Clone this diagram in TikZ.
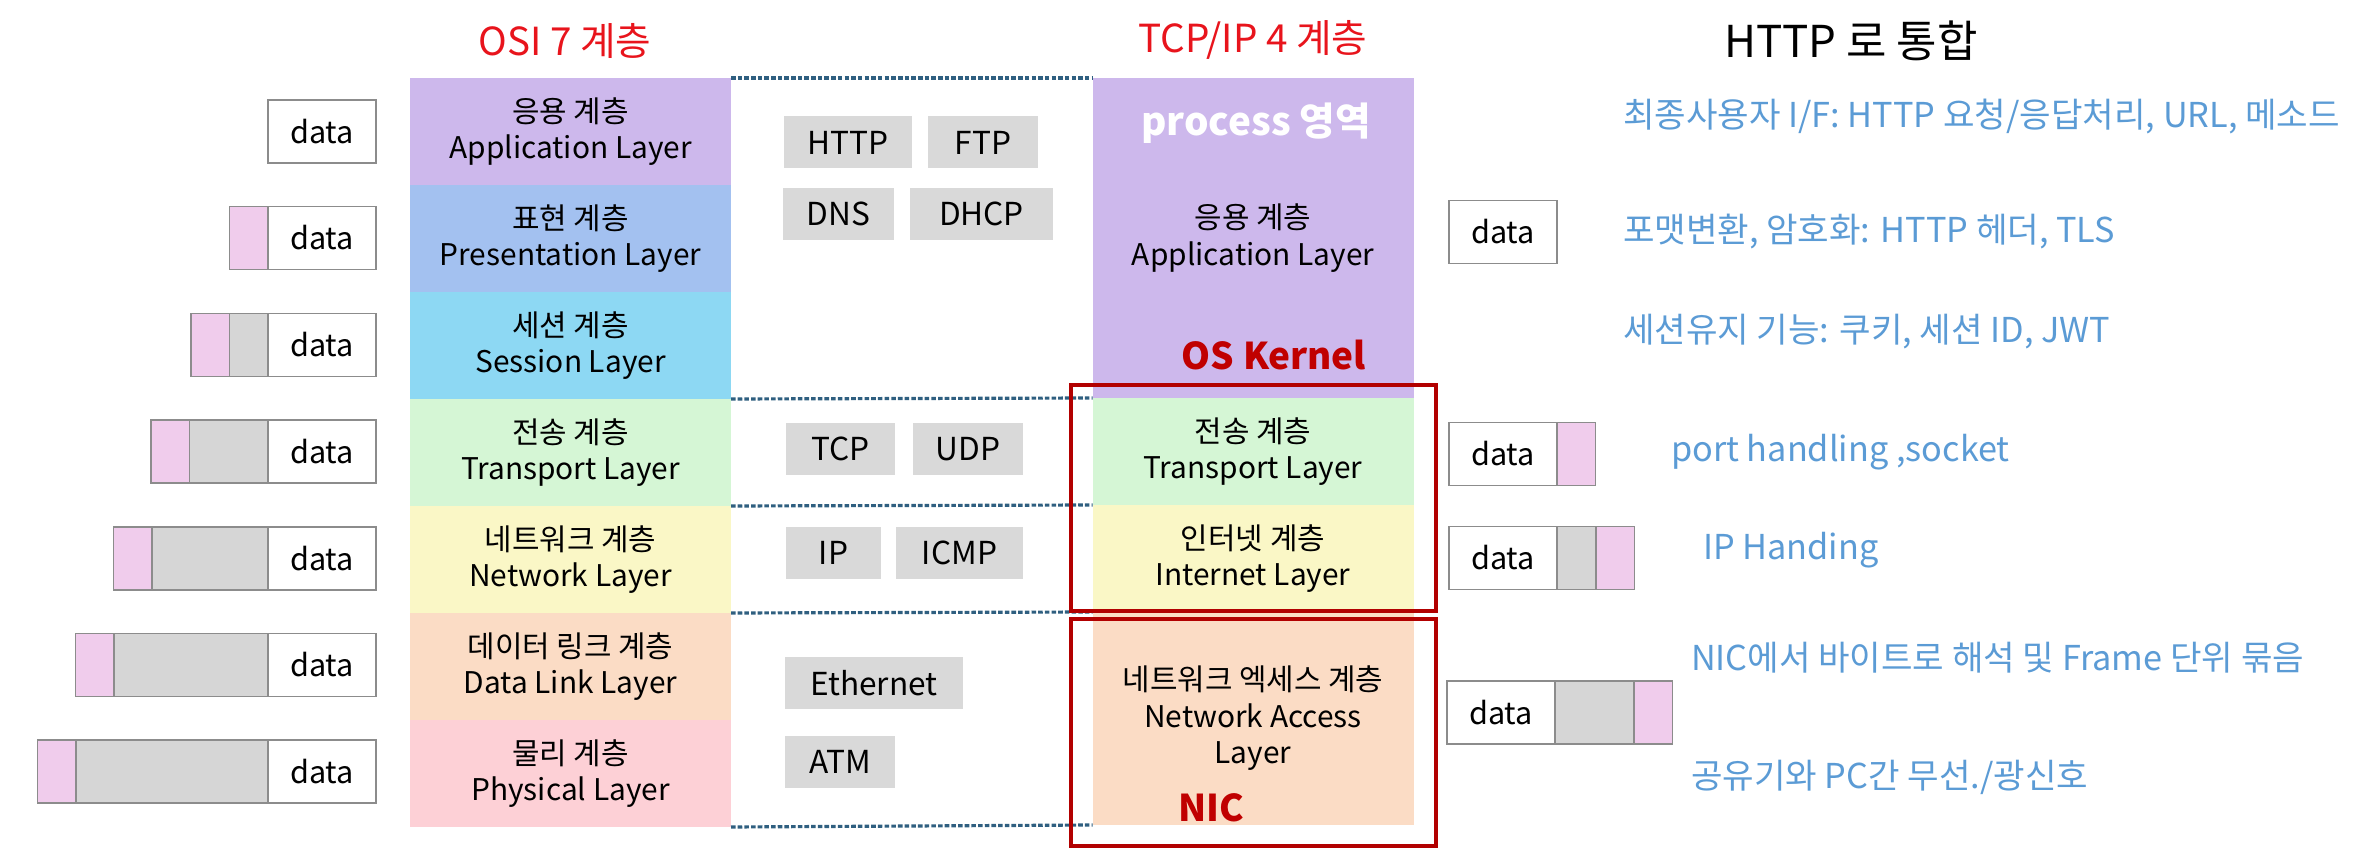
\documentclass[tikz,border=0pt]{standalone}
\usepackage{fontspec}
\setmainfont{Noto Sans CJK KR}
\usetikzlibrary{positioning}

\definecolor{appc}{HTML}{CDB8EC}
\definecolor{prec}{HTML}{A3C1F0}
\definecolor{sesc}{HTML}{8DD8F3}
\definecolor{trac}{HTML}{D5F6D5}
\definecolor{netc}{HTML}{FAF7C6}
\definecolor{dlkc}{HTML}{FBDCC5}
\definecolor{phyc}{HTML}{FDD0D6}
\definecolor{protogray}{HTML}{D9D9D9}
\definecolor{hdrgray}{HTML}{D6D6D6}
\definecolor{hdrpink}{HTML}{F0CCEC}
\definecolor{pktline}{HTML}{8C8C8C}
\definecolor{noteblue}{HTML}{5B9BD5}
\definecolor{titlered}{HTML}{E8141C}
\definecolor{kernred}{HTML}{C00000}
\definecolor{boxred}{HTML}{B20000}
\definecolor{sepblue}{HTML}{2F5F80}

\begin{document}
\begin{tikzpicture}[y=-1cm, node distance=0cm, line join=miter,
    every node/.style={outer sep=0pt, inner sep=0pt},
    layer/.style={minimum width=3.21cm, minimum height=1.07cm, align=center, font=\fontsize{8.5}{10.4}\selectfont},
    proto/.style={fill=protogray, minimum height=0.52cm, anchor=west, font=\fontsize{9}{10}\selectfont},
    pktdat/.style={draw=pktline, line width=0.5pt, fill=white, minimum width=1.08cm, minimum height=0.63cm, font=\fontsize{8.7}{10}\selectfont},
    pkthdr/.style={draw=pktline, line width=0.5pt, fill=hdrgray, minimum height=0.63cm},
    pktpnk/.style={draw=pktline, line width=0.5pt, fill=hdrpink, minimum width=0.385cm, minimum height=0.63cm},
    note/.style={text=noteblue, anchor=west, font=\fontsize{9.75}{11}\selectfont},
    title/.style={text=titlered, font=\fontsize{11}{13}\selectfont},
    kern/.style={text=kernred, font=\bfseries\fontsize{10.5}{12}\selectfont},
    sep/.style={draw=sepblue, line width=0.9pt, dash pattern=on 1.3pt off 0.6pt},
    kbox/.style={draw=boxred, line width=1pt}]
    \useasboundingbox (0,0) rectangle (23.66,8.52);

    % titles
    \node[title] (osititle) at (5.65,0.41) {OSI 7 계층};
    \node[title] (tcptitle) at (12.53,0.40) {TCP/IP 4 계층};
    \node[font=\fontsize{12.5}{14}\selectfont] (httptitle) at (18.51,0.41) {HTTP 로 통합};

    % OSI 7 layers
    \node[layer, fill=appc, anchor=north] (osiapp) at (5.705,0.78) {응용 계층\\Application Layer};
    \node[layer, fill=prec, below=of osiapp] (osipre) {표현 계층\\Presentation Layer};
    \node[layer, fill=sesc, below=of osipre] (osises) {세션 계층\\Session Layer};
    \node[layer, fill=trac, below=of osises] (ositra) {전송 계층\\Transport Layer};
    \node[layer, fill=netc, below=of ositra] (osinet) {네트워크 계층\\Network Layer};
    \node[layer, fill=dlkc, below=of osinet] (osidlk) {데이터 링크 계층\\Data Link Layer};
    \node[layer, fill=phyc, below=of osidlk] (osiphy) {물리 계층\\Physical Layer};

    % TCP/IP 4 layers
    \node[layer, fill=appc, anchor=north, minimum height=3.2cm] (tcpapp) at (12.53,0.78) {응용 계층\\Application Layer};
    \node[layer, fill=trac, below=of tcpapp] (tcptra) {전송 계층\\Transport Layer};
    \node[layer, fill=netc, below=of tcptra] (tcpint) {인터넷 계층\\Internet Layer};
    \node[layer, fill=dlkc, below=of tcpint, minimum height=2.13cm] (tcpnac) {네트워크 엑세스 계층\\Network Access\\Layer};

    \node[text=white, font=\bfseries\fontsize{11}{13}\selectfont] (proc) at (12.56,1.23) {process 영역};
    \node[kern] (oskern) at (12.74,3.55) {OS Kernel};
    \node[kern] (nic) at (12.11,8.08) {NIC};

    % separators
    \draw[sep] (osiapp.north east) -- (tcpapp.north west);
    \draw[sep] (osises.south east) -- (tcpapp.south west);
    \draw[sep] (ositra.south east) -- (tcptra.south west);
    \draw[sep] (osinet.south east) -- (tcpint.south west);
    \draw[sep] (osiphy.south east) -- (tcpnac.south west);

    % protocols
    \node[proto, minimum width=1.28cm] (http) at (7.84,1.425) {HTTP};
    \node[proto, minimum width=1.10cm] (ftp) at (9.28,1.425) {FTP};
    \node[proto, minimum width=1.11cm] (dns) at (7.83,2.14) {DNS};
    \node[proto, minimum width=1.43cm] (dhcp) at (9.10,2.14) {DHCP};
    \node[proto, minimum width=1.09cm] (tcp) at (7.86,4.49) {TCP};
    \node[proto, minimum width=1.10cm] (udp) at (9.13,4.49) {UDP};
    \node[proto, minimum width=0.95cm] (ip) at (7.86,5.53) {IP};
    \node[proto, minimum width=1.27cm] (icmp) at (8.96,5.53) {ICMP};
    \node[proto, minimum width=1.78cm] (eth) at (7.85,6.835) {Ethernet};
    \node[proto, minimum width=1.10cm] (atm) at (7.85,7.62) {ATM};

    % OSI side packets
    \node[pktdat, anchor=east] (ldat1) at (3.76,1.315) {data};

    \node[pktdat, anchor=east] (ldat2) at (3.76,2.38) {data};
    \node[pktpnk, left=of ldat2] (lpnk2) {};

    \node[pktdat, anchor=east] (ldat3) at (3.76,3.45) {data};
    \node[pkthdr, minimum width=0.385cm, left=of ldat3] (lhdr3) {};
    \node[pktpnk, left=of lhdr3] (lpnk3) {};

    \node[pktdat, anchor=east] (ldat4) at (3.76,4.515) {data};
    \node[pkthdr, minimum width=0.785cm, left=of ldat4] (lhdr4) {};
    \node[pktpnk, left=of lhdr4] (lpnk4) {};

    \node[pktdat, anchor=east] (ldat5) at (3.76,5.585) {data};
    \node[pkthdr, minimum width=1.16cm, left=of ldat5] (lhdr5) {};
    \node[pktpnk, left=of lhdr5] (lpnk5) {};

    \node[pktdat, anchor=east] (ldat6) at (3.76,6.65) {data};
    \node[pkthdr, minimum width=1.54cm, left=of ldat6] (lhdr6) {};
    \node[pktpnk, left=of lhdr6] (lpnk6) {};

    \node[pktdat, anchor=east] (ldat7) at (3.76,7.715) {data};
    \node[pkthdr, minimum width=1.92cm, left=of ldat7] (lhdr7) {};
    \node[pktpnk, left=of lhdr7] (lpnk7) {};

    % TCP/IP side packets
    \node[pktdat, anchor=west] (rdat1) at (14.49,2.32) {data};

    \node[pktdat, anchor=west] (rdat2) at (14.49,4.54) {data};
    \node[pktpnk, right=of rdat2] (rpnk2) {};

    \node[pktdat, anchor=west] (rdat3) at (14.49,5.58) {data};
    \node[pkthdr, minimum width=0.39cm, right=of rdat3] (rhdr3) {};
    \node[pktpnk, right=of rhdr3] (rpnk3) {};

    \node[pktdat, anchor=west] (rdat4) at (14.47,7.125) {data};
    \node[pkthdr, minimum width=0.79cm, right=of rdat4] (rhdr4) {};
    \node[pktpnk, right=of rhdr4] (rpnk4) {};

    % red frames
    \draw[kbox] (10.71,3.85) rectangle (14.36,6.11);
    \draw[kbox] (10.71,6.19) rectangle (14.36,8.46);

    % notes
    \node[note] (n1) at (16.23,1.17) {최종사용자 I/F: HTTP 요청/응답처리, URL, 메소드};
    \node[note] (n2) at (16.23,2.32) {포맷변환, 암호화: HTTP 헤더, TLS};
    \node[note] (n3) at (16.23,3.32) {세션유지 기능: 쿠키, 세션 ID, JWT};
    \node[note] (n4) at (16.71,4.52) {port handling ,socket};
    \node[note] (n5) at (17.03,5.50) {IP Handing};
    \node[note] (n6) at (16.91,6.58) {NIC에서 바이트로 해석 및 Frame 단위 묶음};
    \node[note] (n7) at (16.91,7.77) {공유기와 PC간 무선./광신호};
\end{tikzpicture}
\end{document}
